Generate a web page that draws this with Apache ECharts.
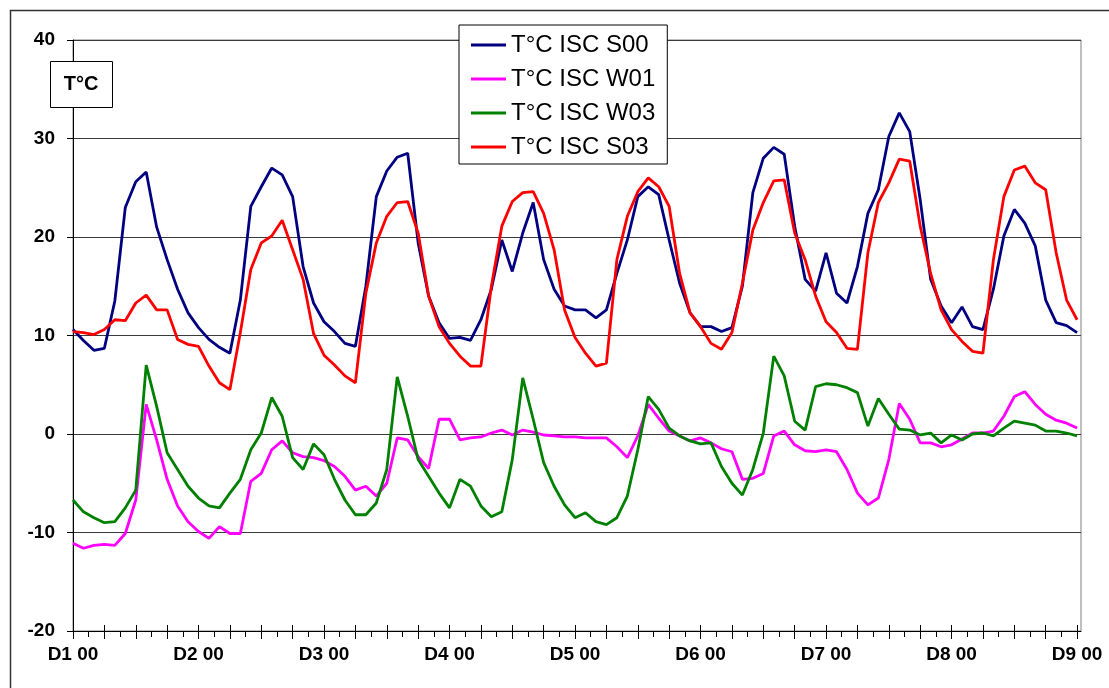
<!DOCTYPE html>
<html>
<head>
<meta charset="utf-8">
<script src="https://cdn.jsdelivr.net/npm/echarts@6/dist/echarts.min.js"></script>
<style>
html,body{margin:0;padding:0;background:#fff;}
#chart{width:1109px;height:688px;}
</style>
</head>
<body>
<div id="chart"></div>
<script>
// Hours since D1 00 (2-hour steps)
var hours = [0,2,4,6,8,10,12,14,16,18,20,22,24,26,28,30,32,34,36,38,40,42,44,46,48,
  50,52,54,56,58,60,62,64,66,68,70,72,74,76,78,80,82,84,86,88,90,92,94,96,
  98,100,102,104,106,108,110,112,114,116,118,120,122,124,126,128,130,132,134,136,138,140,142,144,
  146,148,150,152,154,156,158,160,162,164,166,168,170,172,174,176,178,180,182,184,186,188,190,192];

var seriesNames = ['T°C ISC S00','T°C ISC W01','T°C ISC W03','T°C ISC S03'];

var s00 = [10.6,9.5,8.5,8.7,13.5,23.0,25.6,26.6,21.0,17.7,14.7,12.3,10.8,9.6,8.8,8.2,13.6,23.1,25.1,27.0,26.3,24.1,17.0,13.3,11.4,
  10.4,9.2,8.9,15.0,24.1,26.7,28.1,28.5,19.4,14.0,11.3,9.7,9.8,9.5,11.6,14.7,19.7,16.5,20.4,23.5,17.7,14.7,13.0,12.6,
  12.6,11.8,12.6,16.3,19.7,24.1,25.1,24.3,19.7,15.3,12.3,10.9,10.9,10.4,10.8,15.0,24.5,28.0,29.1,28.4,21.1,15.7,14.5,18.4,
  14.3,13.3,17.0,22.4,24.8,30.2,32.6,30.7,23.8,15.7,13.0,11.3,12.9,10.9,10.6,14.7,20.1,22.8,21.4,19.1,13.6,11.3,11.0,10.3];

var w01 = [-11.1,-11.6,-11.3,-11.2,-11.3,-10.1,-6.7,3.0,-0.6,-4.6,-7.3,-8.9,-9.9,-10.6,-9.4,-10.1,-10.1,-4.8,-4.0,-1.6,-0.7,-1.9,-2.3,-2.4,-2.7,
  -3.3,-4.3,-5.7,-5.3,-6.3,-5.0,-0.4,-0.6,-2.3,-3.5,1.5,1.5,-0.6,-0.4,-0.3,0.1,0.4,-0.1,0.4,0.2,-0.1,-0.2,-0.3,-0.3,
  -0.4,-0.4,-0.4,-1.3,-2.4,-0.2,3.0,1.6,0.3,-0.2,-0.7,-0.4,-0.9,-1.5,-1.8,-4.6,-4.5,-4.0,-0.2,0.3,-1.1,-1.7,-1.8,-1.6,
  -1.8,-3.6,-6.0,-7.2,-6.5,-2.6,3.1,1.5,-0.9,-0.9,-1.3,-1.1,-0.5,0.1,0.1,0.3,1.8,3.8,4.3,3.0,2.0,1.4,1.1,0.6];

var w03 = [-6.7,-7.9,-8.5,-9.0,-8.9,-7.5,-5.7,7.0,2.8,-1.9,-3.6,-5.3,-6.5,-7.3,-7.5,-6.0,-4.6,-1.6,0.1,3.7,1.8,-2.4,-3.6,-1.0,-2.1,
  -4.6,-6.7,-8.2,-8.2,-7.0,-3.6,5.8,1.8,-2.6,-4.3,-6.0,-7.5,-4.6,-5.3,-7.3,-8.4,-7.9,-2.6,5.7,1.5,-2.9,-5.3,-7.2,-8.5,
  -8.0,-8.9,-9.2,-8.5,-6.3,-1.6,3.8,2.5,0.6,-0.2,-0.7,-1.0,-0.9,-3.3,-5.0,-6.2,-3.6,0.1,7.9,5.9,1.3,0.4,4.8,5.1,
  5.0,4.7,4.2,0.8,3.6,2.0,0.5,0.4,-0.1,0.1,-0.9,-0.1,-0.6,0.0,0.1,-0.2,0.6,1.3,1.1,0.9,0.3,0.3,0.1,-0.2];

var s03 = [10.4,10.3,10.1,10.6,11.6,11.5,13.3,14.1,12.6,12.6,9.6,9.1,8.9,6.9,5.2,4.5,10.3,16.7,19.4,20.1,21.7,18.7,15.7,10.2,8.0,
  7.0,5.9,5.2,14.3,19.4,22.1,23.5,23.6,20.4,14.0,10.9,9.2,7.9,6.9,6.9,15.0,21.1,23.6,24.5,24.6,22.4,18.7,12.6,9.8,
  8.2,6.9,7.2,17.7,22.1,24.6,26.0,25.1,23.1,16.3,12.3,10.9,9.2,8.6,10.3,15.3,20.7,23.5,25.7,25.8,20.4,17.7,14.0,11.4,
  10.3,8.7,8.6,18.4,23.5,25.5,27.9,27.7,21.1,16.3,12.6,10.6,9.4,8.4,8.2,17.7,24.1,26.8,27.2,25.5,24.8,18.4,13.6,11.6];

var colors = ['#000080','#FF00FF','#008000','#FF0000'];
var dayLabels = ['D1 00','D2 00','D3 00','D4 00','D5 00','D6 00','D7 00','D8 00','D9 00'];

var majorTicks = [], minorTicks = [], labelTicks = [];
for (var t = 0; t <= 192; t += 6) majorTicks.push(t);
for (var m = 3; m < 192; m += 6) minorTicks.push(m);
for (var d = 0; d <= 192; d += 24) labelTicks.push(d);

function pairs(vals){ return hours.map(function(h,i){ return [h, vals[i]]; }); }

var FONT = "Arial, 'Liberation Sans', sans-serif";
var allVals = [s00, w01, w03, s03];

var chart = echarts.init(document.getElementById('chart'), null, {renderer:'canvas'});
var baseX = {
  type:'value', min:0, max:192.75, gridIndex:0, position:'bottom',
  splitLine:{show:false}, minorSplitLine:{show:false}
};
chart.setOption({
  animation:false,
  backgroundColor:'#fff',
  grid:{left:73, right:28, top:40, bottom:57, show:true, borderColor:'#808080', borderWidth:1, backgroundColor:'transparent'},
  xAxis:[
    Object.assign({}, baseX, {
      axisLine:{show:true, onZero:false, lineStyle:{color:'#000', width:1}},
      axisTick:{show:true, inside:false, length:8, customValues:majorTicks, lineStyle:{color:'#000'}},
      axisLabel:{show:true, customValues:labelTicks, margin:14,
        formatter:function(v){ return dayLabels[Math.round(v/24)]; },
        fontFamily:FONT, fontWeight:'bold', fontSize:19, color:'#000'}
    }),
    Object.assign({}, baseX, {
      axisLine:{show:false, onZero:false},
      axisTick:{show:true, inside:true, length:6, customValues:majorTicks, lineStyle:{color:'#000'}},
      axisLabel:{show:false}
    }),
    Object.assign({}, baseX, {
      axisLine:{show:false, onZero:false},
      axisTick:{show:true, inside:false, length:6, customValues:minorTicks, lineStyle:{color:'#000'}},
      axisLabel:{show:false}
    })
  ],
  yAxis:{
    type:'value', min:-20, max:40, interval:10,
    axisLine:{show:true, onZero:false, lineStyle:{color:'#000', width:1}},
    axisTick:{show:true, inside:false, length:6, lineStyle:{color:'#000'}},
    axisLabel:{margin:18, fontFamily:FONT, fontWeight:'bold', fontSize:19, color:'#000'},
    splitLine:{show:true, lineStyle:{color:'#3a3a3a', width:1}}
  },
  legend:{
    show:true, orient:'vertical', left:459, top:25,
    data:seriesNames,
    icon:'rect', itemWidth:35, itemHeight:3, itemGap:10,
    padding:[8,12,5,12],
    backgroundColor:'#fff', borderColor:'#000', borderWidth:1,
    textStyle:{fontFamily:FONT, fontSize:24, lineHeight:24, color:'#000'}
  },
  graphic:[
    {type:'rect', z:100, shape:{x:10.5, y:10.5, width:1200, height:800}, style:{fill:'none', stroke:'#333', lineWidth:1.5}},
    {type:'rect', z:100, shape:{x:50.5, y:61.5, width:62, height:46}, style:{fill:'#fff', stroke:'#000', lineWidth:1}},
    {type:'text', z:101, x:81, y:84, style:{text:'T°C', font:"bold 20px Arial, 'Liberation Sans', sans-serif", fill:'#000', align:'center', verticalAlign:'middle'}}
  ],
  series: seriesNames.map(function(n, i){
    return {
      name:n, type:'line', xAxisIndex:0, yAxisIndex:0,
      data:pairs(allVals[i]), showSymbol:false, symbol:'none',
      lineStyle:{color:colors[i], width:2.8}, itemStyle:{color:colors[i]},
      z:2+i
    };
  })
});
</script>
</body>
</html>
